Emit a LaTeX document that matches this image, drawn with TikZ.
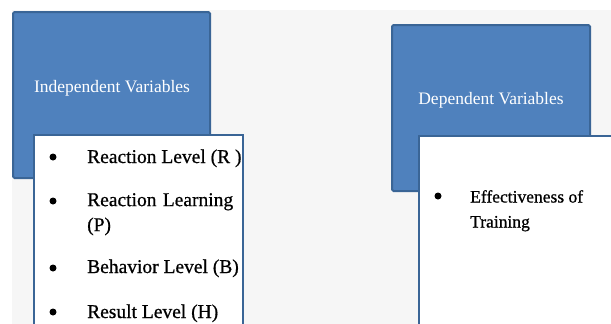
\documentclass[tikz,border=0pt]{standalone}
\usepackage{fontspec}
\setmainfont{Liberation Serif}
\newfontfamily\listfont[FakeBold=0.7]{Liberation Serif}
\definecolor{boxblue}{HTML}{4F81BD}
\definecolor{boxedge}{HTML}{3A6596}
\definecolor{bggray}{HTML}{F6F6F6}
\begin{document}
\begin{tikzpicture}[x=1pt,y=-1pt,
  bluebox/.style={draw=boxedge,fill=boxblue,line width=2pt,rounded corners=1.5pt},
  whitebox/.style={draw=boxedge,line width=2pt},
  head/.style={text=white,font=\fontsize{17.5}{21}\selectfont,inner sep=0pt},
  itemL/.style={anchor=base west,inner sep=0pt,font=\listfont\fontsize{19.5}{25}\selectfont},
  itemR/.style={anchor=base west,inner sep=0pt,font=\listfont\fontsize{17.5}{25}\selectfont},
  dot/.style={circle,fill=black,inner sep=0pt,minimum size=7pt}]
\useasboundingbox (0,0) rectangle (611,324);
\fill[bggray] (12,10) rectangle (611,324);
% left group
\draw[bluebox] (13,12) rectangle (210,178);
\node[head,anchor=base] (ind) at (112,92) {Independent Variables};
\fill[white] (35,136) rectangle (242,330);
\draw[whitebox] (34,330) -- (34,135) -- (243,135) -- (243,330);
\node[dot] (b1) at (53,157) {};
\node[itemL] (t1) at (87,163) {Reaction Level (R )};
\node[dot] (b2) at (53,201) {};
\node[itemL,anchor=north west,align=left] (t2) at (87,193) {\makebox[146pt][s]{Reaction\hfill Learning}\\(P)};
\node[dot] (b3) at (53,268) {};
\node[itemL] (t3) at (87,273) {Behavior Level (B)};
\node[dot] (b4) at (53,312) {};
\node[itemL] (t4) at (87,318) {Result Level (H)};
% right group
\draw[bluebox] (392,25) rectangle (590,191);
\node[head,anchor=base] (dep) at (491,104) {Dependent Variables};
\fill[white] (420,137) rectangle (611,330);
\draw[whitebox] (419,330) -- (419,136) -- (620,136);
\node[dot] (b5) at (438,196) {};
\node[itemR,anchor=north west,align=left] (t5) at (470,190) {Effectiveness of\\Training};
\end{tikzpicture}
\end{document}
